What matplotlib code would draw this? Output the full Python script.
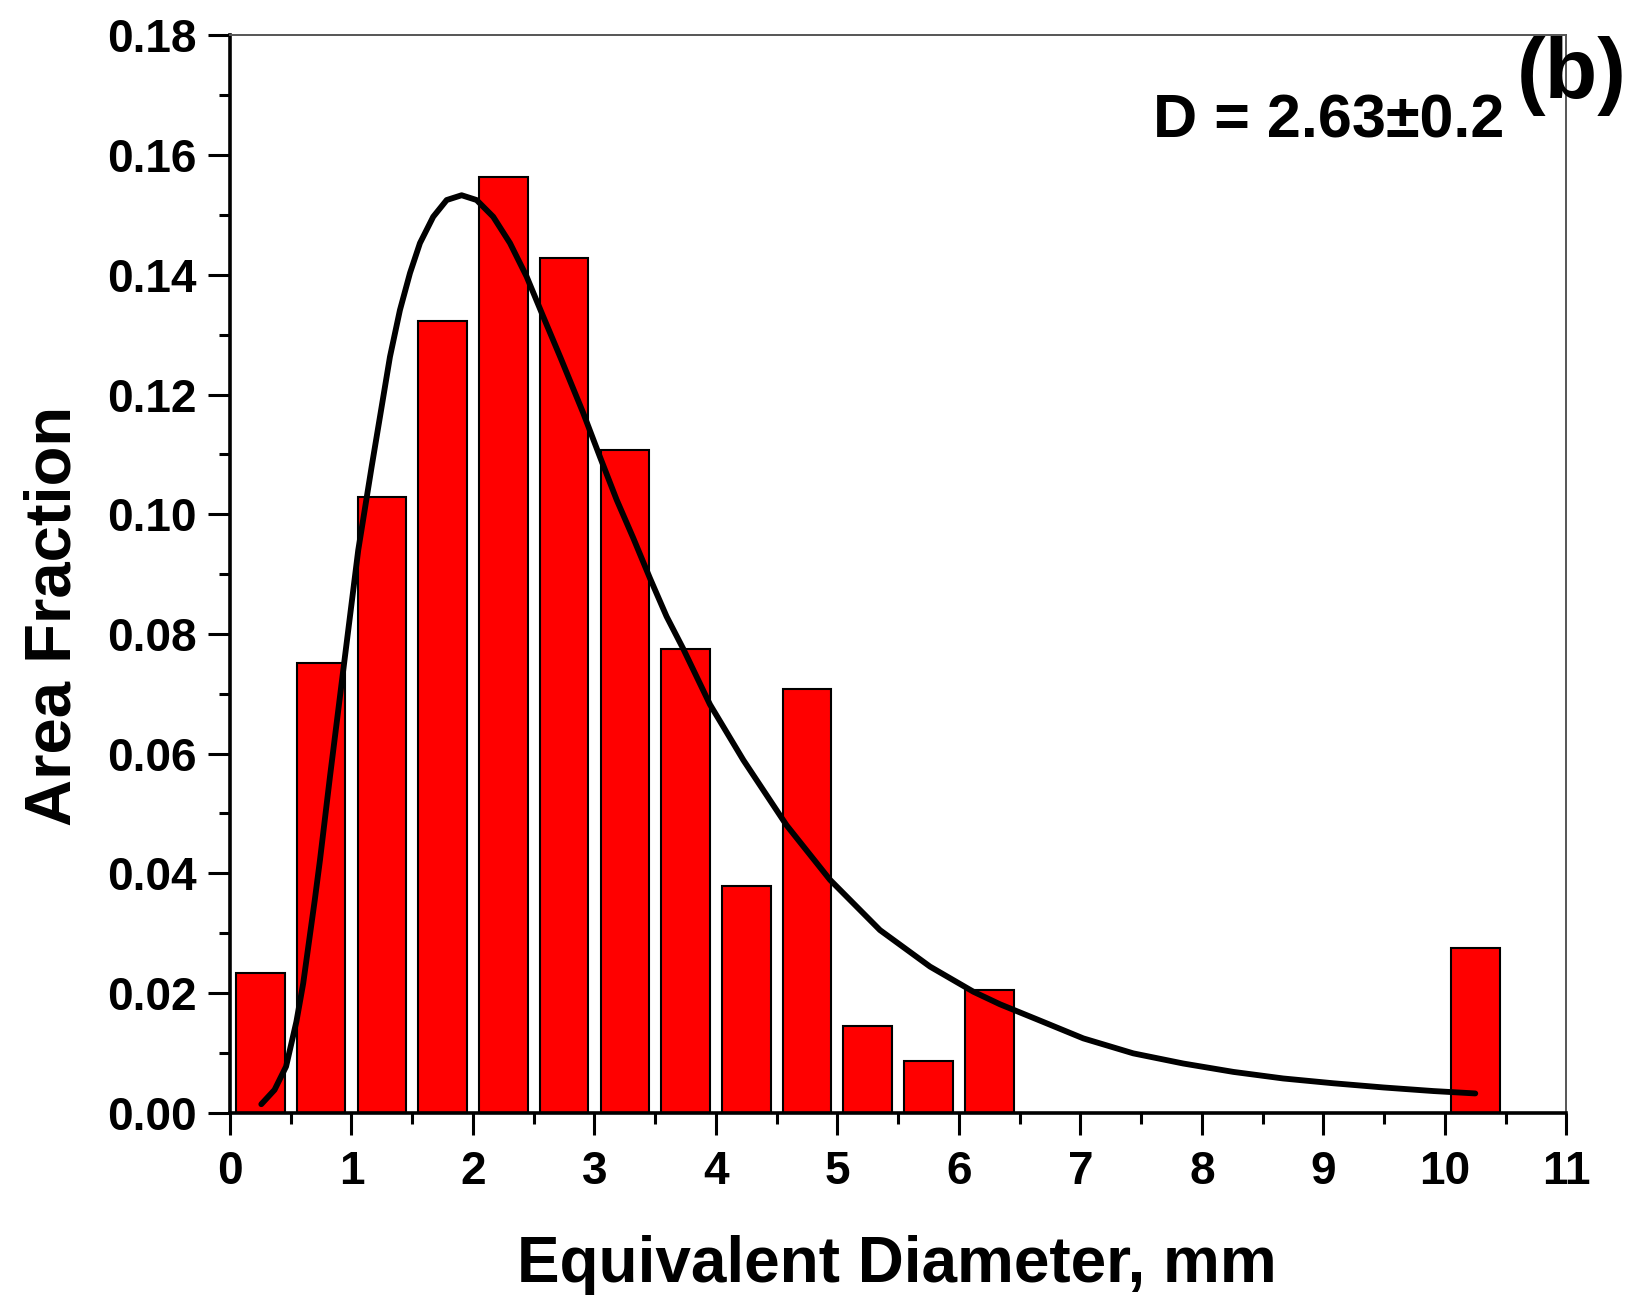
import numpy as np
import matplotlib.pyplot as plt
from matplotlib.ticker import MultipleLocator

# histogram bins (bin centres, mm) and area fraction
bin_centers = [0.25, 0.75, 1.25, 1.75, 2.25, 2.75, 3.25, 3.75, 4.25, 4.75,
               5.25, 5.75, 6.25, 10.25]
area_frac = [0.0233, 0.0751, 0.1028, 0.1323, 0.1563, 0.1428, 0.1108, 0.0774,
             0.0379, 0.0708, 0.0144, 0.0087, 0.0205, 0.0275]

# fitted curve, points
fit_x = [0.258, 0.367, 0.462, 0.547, 0.603, 0.698, 0.741, 0.823, 0.933, 1.056,
         1.166, 1.235, 1.317, 1.399, 1.482, 1.564, 1.673, 1.784, 1.907, 2.030,
         2.167, 2.305, 2.442, 2.579, 2.720, 2.908, 3.045, 3.183, 3.320, 3.457,
         3.594, 3.731, 3.951, 4.226, 4.582, 4.939, 5.350, 5.762, 6.119, 6.338,
         6.640, 7.024, 7.435, 7.847, 8.259, 8.670, 9.082, 9.494, 9.905, 10.25]
fit_y = [0.0014, 0.0038, 0.0077, 0.0152, 0.0216, 0.0355, 0.0422, 0.0561, 0.0740, 0.0940,
         0.1079, 0.1163, 0.1263, 0.1341, 0.1403, 0.1453, 0.1497, 0.1525, 0.1533, 0.1525,
         0.1497, 0.1453, 0.1397, 0.1330, 0.1262, 0.1169, 0.1096, 0.1024, 0.0960, 0.0893,
         0.0829, 0.0775, 0.0682, 0.0589, 0.0480, 0.0389, 0.0305, 0.0244, 0.0202, 0.0181,
         0.0156, 0.0124, 0.0099, 0.0082, 0.0068, 0.0057, 0.0049, 0.0042, 0.0036, 0.0032]

plt.rcParams['font.family'] = ['Liberation Sans', 'DejaVu Sans']
plt.rcParams['font.weight'] = 'bold'

fig = plt.figure(figsize=(16.32, 12.99), dpi=100)
ax = fig.add_axes([0.1409, 0.1435, 0.8189, 0.8292])

ax.bar(bin_centers, area_frac, width=0.4, color='#ff0000', edgecolor='black',
       linewidth=1.5, zorder=2)
ax.plot(fit_x, fit_y, color='black', linewidth=4.2, solid_capstyle='round',
        solid_joinstyle='round', zorder=3)

ax.set_xlim(0, 11)
ax.set_ylim(0, 0.18)
ax.xaxis.set_major_locator(MultipleLocator(1))
ax.xaxis.set_minor_locator(MultipleLocator(0.5))
ax.yaxis.set_major_locator(MultipleLocator(0.02))
ax.yaxis.set_minor_locator(MultipleLocator(0.01))
ax.yaxis.set_major_formatter(plt.FormatStrFormatter('%.2f'))

ax.tick_params(which='major', direction='out', length=16, width=2.2,
               labelsize=33, pad=8)
ax.tick_params(which='minor', direction='out', length=8, width=2.2)
ax.tick_params(axis='x', which='major', pad=11)
ax.tick_params(top=False, right=False, which='both')
for lab in ax.get_xticklabels() + ax.get_yticklabels():
    lab.set_fontweight('bold')

ax.spines['left'].set_linewidth(2.6)
ax.spines['bottom'].set_linewidth(2.6)
for s in ['top', 'right']:
    ax.spines[s].set_linewidth(1.4)
    ax.spines[s].set_color('#555555')

fig.text(0.5494, 0.013, 'Equivalent Diameter, mm', fontsize=46,
         fontweight='bold', ha='center', va='baseline')
fig.text(0.0429, 0.526, 'Area Fraction', fontsize=47, fontweight='bold',
         rotation=90, rotation_mode='anchor', ha='center', va='baseline')

ax.text(10.49, 0.1629, 'D = 2.63\u00b10.2', fontsize=44, fontweight='bold',
        ha='right', va='baseline')
fig.text(0.9632, 0.9415, '(b)', fontsize=62, fontweight='bold',
         ha='center', va='center')

fig.savefig('out.png', dpi=100)
